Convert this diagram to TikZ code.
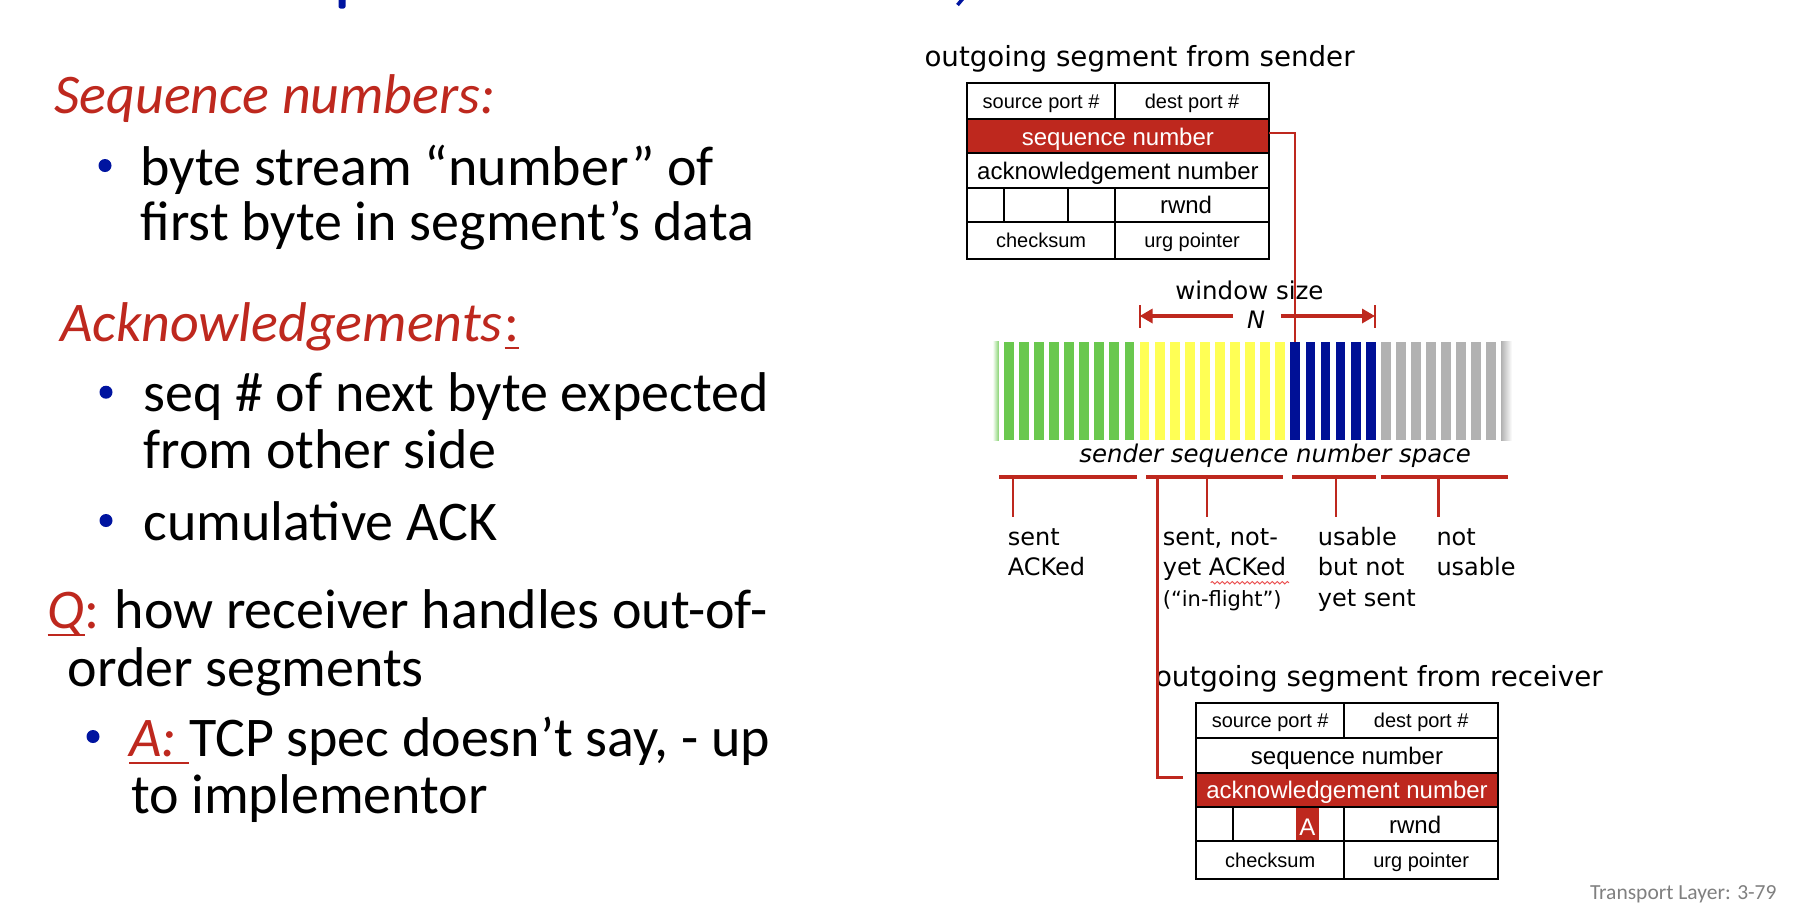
\documentclass[tikz,border=0pt]{standalone}
\usepackage{fontspec}
\setmainfont{Carlito}
\newfontfamily\dvfont{DejaVu Sans}
\newfontfamily\arfont{Liberation Sans}
\usetikzlibrary{arrows.meta,calc,decorations.pathmorphing}

\definecolor{hdred}{RGB}{190,40,30}
\definecolor{squiggle}{RGB}{235,80,80}
\definecolor{bulblue}{RGB}{0,20,160}
\definecolor{bargreen}{RGB}{106,200,78}
\definecolor{baryellow}{RGB}{255,255,85}
\definecolor{barnavy}{RGB}{0,16,150}
\definecolor{bargray}{RGB}{178,178,178}
\definecolor{footgray}{RGB}{128,128,128}

\tikzset{
  txt/.style={inner sep=0pt, outer sep=0pt, anchor=base west},
  body/.style={txt, font=\fontsize{56}{56}\selectfont},
  head/.style={txt, text=hdred, font=\fontsize{56}{56}\selectfont\itshape},
  bul/.style={circle, fill=bulblue, inner sep=0pt, minimum size=13pt},
  ulred/.style={draw=hdred, line width=2.3pt},
  ttl/.style={txt, font=\dvfont\fontsize{27.7}{30}\selectfont},
  lbl/.style={txt, font=\dvfont\fontsize{24}{30}\selectfont},
  lblsm/.style={txt, font=\dvfont\fontsize{21}{30}\selectfont},
  conn/.style={draw=hdred, line width=2.2pt},
  brace/.style={draw=hdred, line width=4pt},
  winarrow/.style={draw=hdred, line width=4pt, -{Triangle[length=13pt,width=14pt]}},
  cellbase/.style={draw=black, line width=2pt, inner sep=0pt, outer sep=0pt, anchor=north west, fill=white},
  smtxt/.style={font=\arfont\fontsize{20}{20}\selectfont, text height=20pt, text depth=5pt},
  lgtxt/.style={font=\arfont\fontsize{24}{24}\selectfont, text height=24pt, text depth=6pt},
  redrow/.style={fill=hdred, text=white},
  seqrow/.style={},
  ackrow/.style={},
  pics/tcpheader/.style={code={
    \node[cellbase,smtxt,minimum width=148.3pt,minimum height=35.5pt] (-src) at (0,0) {source port \#};
    \node[cellbase,smtxt,minimum width=153.7pt,minimum height=35.5pt] (-dst) at (148.3,0) {dest port \#};
    \node[cellbase,lgtxt,seqrow,minimum width=302pt,minimum height=34.5pt] (-seq) at (0,35.5) {sequence number};
    \node[cellbase,lgtxt,ackrow,minimum width=302pt,minimum height=34.5pt] (-ack) at (0,70) {acknowledgement number};
    \node[cellbase,minimum width=36.6pt,minimum height=34pt] (-fa) at (0,104.5) {};
    \node[cellbase,minimum width=64.2pt,minimum height=34pt] (-fb) at (36.6,104.5) {};
    \node[cellbase,minimum width=47.5pt,minimum height=34pt] (-fc) at (100.8,104.5) {};
    \node[cellbase,lgtxt,minimum width=153.7pt,minimum height=34pt] (-rwnd) at (148.3,104.5) {rwnd\kern12pt};
    \node[cellbase,smtxt,minimum width=148.3pt,minimum height=37.3pt] (-ck) at (0,138.5) {checksum};
    \node[cellbase,smtxt,minimum width=153.7pt,minimum height=37.3pt] (-urg) at (148.3,138.5) {urg pointer};
  }}
}

\begin{document}
\begin{tikzpicture}[x=1pt,y=-1pt]
\useasboundingbox (0,0) rectangle (1814,914);
\fill[white] (0,0) rectangle (1814,914);

% descenders of the heading line above
\fill[bulblue, rounded corners=2pt] (338.5,-4) rectangle (345.5,8.5);
\draw[bulblue, line width=3.5pt] (962.5,-1) -- (957.5,5);

% ---------- left column ----------
\node[head] (hseq) at (54.5,113) {Sequence numbers:};
\node[bul] (b1) at (105,165.5) {};
\node[body] (l1) at (140.6,185) {byte stream “number” of};
\node[body] (l2) at (140.6,240) {first byte in segment’s data};

\node[head] (hack) at (60.3,341) {Acknowledgements};
\node[txt, text=hdred, font=\fontsize{56}{56}\selectfont, anchor=base west] (hackc) at ([xshift=2pt]hack.base east) {:};
\draw[ulred] ([yshift=-7pt]hackc.base west) -- ([yshift=-7pt]hackc.base east);
\node[bul] (b2) at (106,392.2) {};
\node[body] (l3) at (143.5,411.7) {seq \# of next byte expected};
\node[body] (l4) at (143.5,468) {from other side};
\node[bul] (b3) at (106,520.5) {};
\node[body] (l5) at (143.5,540) {cumulative ACK};

\node[head] (hq) at (47.6,628) {Q};
\node[body] (l6) at (hq.base east) {{\color{hdred}:}\kern-2pt{} how receiver handles out-of-};
\draw[ulred] ([yshift=-7pt]hq.base west) -- ([yshift=-7pt]hq.base east);
\node[body] (l7) at (67.7,686) {order segments};
\node[bul] (b4) at (93,736.5) {};
\node[head] (ha) at (129,756) {A:\kern12.7pt};
\node[body] (l8) at (ha.base east) {TCP spec doesn’t say, - up};
\draw[ulred] ([yshift=-7pt]ha.base west) -- ([yshift=-7pt]ha.base east);
\node[body] (l9) at (131,813) {to implementor};

% ---------- sender header ----------
\node[ttl] (tsnd) at (924.5,66.7) {outgoing segment from sender};
\pic[seqrow/.style={redrow}] (snd) at (966.9,83.3) {tcpheader};

% ---------- window and sequence space ----------
\node[txt, font=\dvfont\fontsize{24.5}{30}\selectfont] (wsize) at (1175.3,299.3) {window size};
\node[txt, font=\dvfont\itshape\fontsize{24}{30}\selectfont] (wN) at (1247,328.8) {N};
\coordinate (wl) at (1139.6,316);
\coordinate (wr) at (1375,316);
\draw[hdred, line width=2pt] (1139.6,305) -- (1139.6,327.5);
\draw[hdred, line width=2pt] (1375,305) -- (1375,327.5);
\draw[winarrow] ($(wN.west |- wl)+(-14,0)$) -- (wl);
\draw[winarrow] ($(wN.east |- wr)+(16,0)$) -- (wr);

% sequence number space bars
\shade[left color=white, right color=bargreen!80] (992.5,341.7) rectangle (998.8,440);
\foreach \i in {0,...,8}   \fill[bargreen]  ({1003.9+15.08*\i},341.7) rectangle ++(9.8,98.3);
\foreach \i in {9,...,18}  \fill[baryellow] ({1003.9+15.08*\i},341.7) rectangle ++(9.8,98.3);
\foreach \i in {19,...,24} \fill[barnavy]   ({1003.9+15.08*\i},341.7) rectangle ++(9.8,98.3);
\foreach \i in {25,...,32} \fill[bargray]   ({1003.9+15.08*\i},341.7) rectangle ++(9.8,98.3);
\shade[left color=bargray, right color=white] (1501.2,341.7) rectangle (1512,440);
\coordinate (nextseq) at ({1003.9+15.08*19+4.9},341.7);

\draw[conn] ([yshift=3pt]snd-seq.east) -| (nextseq);

\node[txt, font=\dvfont\itshape\fontsize{24.4}{30}\selectfont] (space) at (1079.4,462.7) {sender sequence number space};

% range brackets below the bars
\coordinate (r1a) at (999,476.7);   \coordinate (r1b) at (1136.8,476.7);
\coordinate (r2a) at (1146.4,476.7); \coordinate (r2b) at (1283.4,476.7);
\coordinate (r3a) at (1292.2,476.7); \coordinate (r3b) at (1376,476.7);
\coordinate (r4a) at (1381,476.7);   \coordinate (r4b) at (1508.4,476.7);
\draw[brace] (r1a) -- (r1b);
\draw[brace] (r2a) -- (r2b);
\draw[brace] (r3a) -- (r3b);
\draw[brace] (r4a) -- (r4b);
\draw[conn] (1012.8,478) -- (1012.8,516.7);
\draw[conn] (1206.8,478) -- (1206.8,516.7);
\draw[conn] (1335.8,478) -- (1335.8,516.7);
\draw[conn] (1438.4,478) -- (1438.4,516.7);

% range labels
\node[lbl] (s1) at (1007.8,545) {sent};
\node[lbl] (s2) at (1007.8,575) {ACKed};
\node[lbl] (f1) at (1162.8,545) {sent, not-};
\node[lbl] (f2) at (1162.8,575) {yet ACKed};
\node[lblsm] (f3) at (1162.8,606) {(“in-flight”)};
\draw[squiggle, line width=1pt, decorate, decoration={snake, amplitude=1.2pt, segment length=5pt}] (1210.7,582.7) -- (1289,582.7);
\node[lbl] (u1) at (1317.8,545) {usable};
\node[lbl] (u2) at (1317.8,575) {but not};
\node[lbl] (u3) at (1317.8,606) {yet sent};
\node[lbl] (n1) at (1436.5,545) {not};
\node[lbl] (n2) at (1436.5,575) {usable};

% ---------- receiver header ----------
\node[ttl] (trcv) at (1155,686.7) {outgoing segment from receiver};
\pic[ackrow/.style={redrow}] (rcv) at (1196,702.7) {tcpheader};
\node[fill=hdred, text=white, inner sep=0pt, outer sep=0pt, anchor=north west,
      minimum width=23.2pt, minimum height=32pt, text height=22pt, text depth=0pt,
      font=\arfont\fontsize{24}{24}\selectfont] (rflag) at ([xshift=-1pt,yshift=-1pt]rcv-fc.north west) {A};

\coordinate (ackfrom) at (1157.5,476.7);
\draw[conn] (ackfrom) |- ([xshift=-13pt,yshift=12.5pt]rcv-ack.west);

% footer
\node[txt, text=footgray, font=\fontsize{21.5}{22}\selectfont] (foot) at (1590,899) {Transport Layer: 3-79};
\end{tikzpicture}
\end{document}
